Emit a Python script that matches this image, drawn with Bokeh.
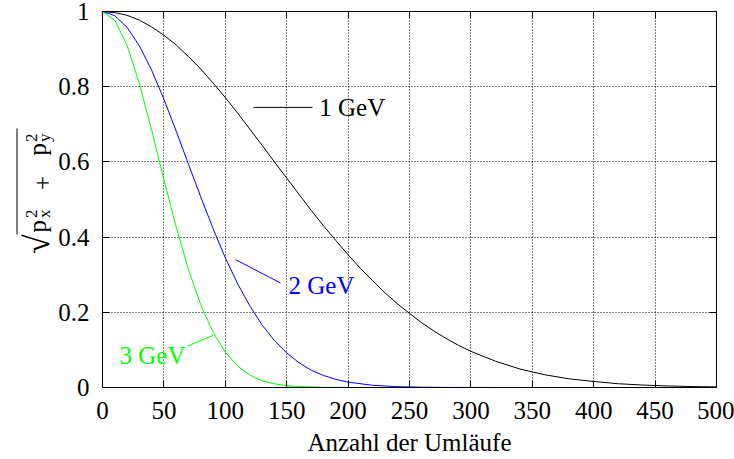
import numpy as np
from bokeh.plotting import figure
from bokeh.layouts import row
from bokeh.models import (Range1d, LinearAxis, SingleIntervalTicker,
                          NumeralTickFormatter)
from bokeh.core.properties import value
from bokeh.embed import file_html
from bokeh.resources import INLINE

# ---------------- data ----------------
x_1gev = [0, 10, 20, 30, 40, 50, 60, 70, 80, 90, 100, 110, 120, 130, 140, 150,
          160, 170, 180, 190, 200, 210, 220, 230, 240, 250, 260, 270, 280, 290,
          300, 320, 340, 360, 380, 400, 420, 440, 460, 480, 500]
y_1gev = [1.000, 0.997, 0.990, 0.977, 0.959, 0.937, 0.911, 0.880, 0.847, 0.810,
          0.771, 0.730, 0.687, 0.644, 0.600, 0.557, 0.514, 0.471, 0.430, 0.391,
          0.353, 0.317, 0.284, 0.252, 0.223, 0.197, 0.172, 0.150, 0.130, 0.112,
          0.096, 0.070, 0.049, 0.034, 0.023, 0.016, 0.010, 0.0065, 0.0041,
          0.0025, 0.0015]

x_2gev = [0, 10, 20, 30, 40, 50, 60, 70, 80, 90, 100, 110, 120, 130, 140, 150,
          160, 170, 180, 190, 200, 220, 240, 260, 280, 300, 350, 400, 450, 500]
y_2gev = [1.000, 0.989, 0.958, 0.909, 0.844, 0.767, 0.682, 0.594, 0.507, 0.423,
          0.345, 0.276, 0.217, 0.166, 0.125, 0.092, 0.066, 0.046, 0.032, 0.0216,
          0.0143, 0.0058, 0.0022, 0.0008, 0.0002, 0.0001, 0.0, 0.0, 0.0, 0.0]

x_3gev = [0, 10, 20, 30, 40, 50, 60, 70, 80, 90, 100, 110, 120, 130, 140, 150,
          160, 180, 200, 250, 300, 350, 400, 450, 500]
y_3gev = [1.000, 0.977, 0.910, 0.808, 0.685, 0.553, 0.427, 0.314, 0.220, 0.147,
          0.094, 0.057, 0.033, 0.018, 0.0097, 0.0049, 0.0023, 0.0005, 0.0001,
          0.0, 0.0, 0.0, 0.0, 0.0, 0.0]

series_names = ["1 GeV", "2 GeV", "3 GeV"]
series_colors = ["#000000", "#0000ff", "#00ff00"]

x_label = "Anzahl der Umläufe"

FONT = "Liberation Serif"
FS = "25px"
SUB = "17px"
H = 459
TOP, BOTTOM = 11, 72
LAB_W = 55

# ---------------- main figure ----------------
p = figure(width=734 - LAB_W, height=H, x_range=Range1d(0, 500),
           y_range=Range1d(0, 1), output_backend="svg", toolbar_location=None,
           min_border_left=102 - LAB_W, min_border_right=18, min_border_top=TOP,
           min_border_bottom=BOTTOM)
p.background_fill_color = "white"
p.border_fill_color = "white"
p.outline_line_color = "black"
p.outline_line_width = 1

xt = SingleIntervalTicker(interval=50, num_minor_ticks=0)
yt = SingleIntervalTicker(interval=0.2, num_minor_ticks=0)

def style_axis(ax, labels=True):
    ax.axis_line_color = "black"
    ax.major_tick_line_color = "black"
    ax.minor_tick_line_color = None
    ax.major_tick_in = 7
    ax.major_tick_out = 0
    if labels:
        ax.major_label_text_font = FONT
        ax.major_label_text_font_size = FS
        ax.major_label_text_color = "black"
    else:
        ax.major_label_text_font_size = "1px"
        ax.major_label_text_color = None
        ax.major_label_standoff = 0

p.xaxis.ticker = xt
p.yaxis.ticker = yt
p.yaxis.formatter = NumeralTickFormatter(format="0.[0]")
style_axis(p.xaxis[0])
style_axis(p.yaxis[0])
p.xaxis.major_label_standoff = 14
p.yaxis.major_label_standoff = 13

p.xaxis.axis_label = x_label
p.xaxis.axis_label_text_font = FONT
p.xaxis.axis_label_text_font_size = FS
p.xaxis.axis_label_text_font_style = "normal"
p.xaxis.axis_label_text_color = "black"
p.xaxis.axis_label_standoff = 7

top_ax = LinearAxis(ticker=xt)
style_axis(top_ax, labels=False)
p.add_layout(top_ax, "above")
right_ax = LinearAxis(ticker=yt)
style_axis(right_ax, labels=False)
p.add_layout(right_ax, "right")

for g in (p.xgrid, p.ygrid):
    g.grid_line_color = "black"
    g.grid_line_dash = "1 2"
    g.grid_line_alpha = 1.0
    g.grid_line_width = 1

p.line(x_1gev, y_1gev, line_color=series_colors[0], line_width=1)
p.line(x_2gev, y_2gev, line_color=series_colors[1], line_width=1)
p.line(x_3gev, y_3gev, line_color=series_colors[2], line_width=1)

# curve labels with pointer lines
p.line([123, 171], [0.745, 0.745], line_color=series_colors[0], line_width=1)
p.text([176.5], [0.745], text=[series_names[0]], text_color=series_colors[0],
       text_font=value(FONT), text_font_size=FS, text_align="left",
       text_baseline="middle")
p.line([108.3, 145], [0.340, 0.278], line_color=series_colors[1], line_width=1)
p.text([151.5], [0.270], text=[series_names[1]], text_color=series_colors[1],
       text_font=value(FONT), text_font_size=FS, text_align="left",
       text_baseline="middle")
p.line([69.2, 90.4], [0.110, 0.139], line_color=series_colors[2], line_width=1)
p.text([67.6], [0.084], text=[series_names[2]], text_color=series_colors[2],
       text_font=value(FONT), text_font_size=FS, text_align="right",
       text_baseline="middle")

# ---------------- y label: sqrt(p_x^2 + p_y^2), rotated ----------------
# the row aligns this figure's frame with the main frame, so the y range is
# chosen such that data y == H - page y
lab = figure(frame_width=LAB_W, frame_height=H - TOP - BOTTOM,
             x_range=Range1d(0, LAB_W),
             y_range=Range1d(BOTTOM, H - TOP),
             output_backend="svg", toolbar_location=None, min_border=0,
             min_border_left=0, min_border_right=0,
             x_axis_type=None, y_axis_type=None)
lab.grid.visible = False
lab.outline_line_color = None
lab.background_fill_color = "white"
lab.border_fill_color = "white"

ang = np.pi / 2
DESC = 0.216  # font descent as a fraction of the font size

def rtext(base_x, y_end_page, t, size_px):
    # text reads bottom-to-top, anchored at its upper end; the anchor sits on
    # the descent line so that descenders are kept
    lab.text([base_x + DESC * size_px], [H - y_end_page], text=[t], angle=ang,
             text_color="black", text_font=value(FONT),
             text_font_size=f"{size_px}px", text_align="right",
             text_baseline="bottom")

rtext(49, 234, "√", 35)
rtext(45, 219.5, "p", 25)
rtext(33, 209, "2", 17)
rtext(50, 209, "x", 17)
rtext(45, 175.5, "+", 25)
rtext(45, 142.5, "p", 25)
rtext(33, 133, "2", 17)
rtext(50, 133, "y", 17)
lab.line([16.5, 16.5], [H - 234, H - 128], line_color="black", line_width=1)

layout = row(lab, p)
open("out.html", "w").write(file_html(layout, INLINE))
